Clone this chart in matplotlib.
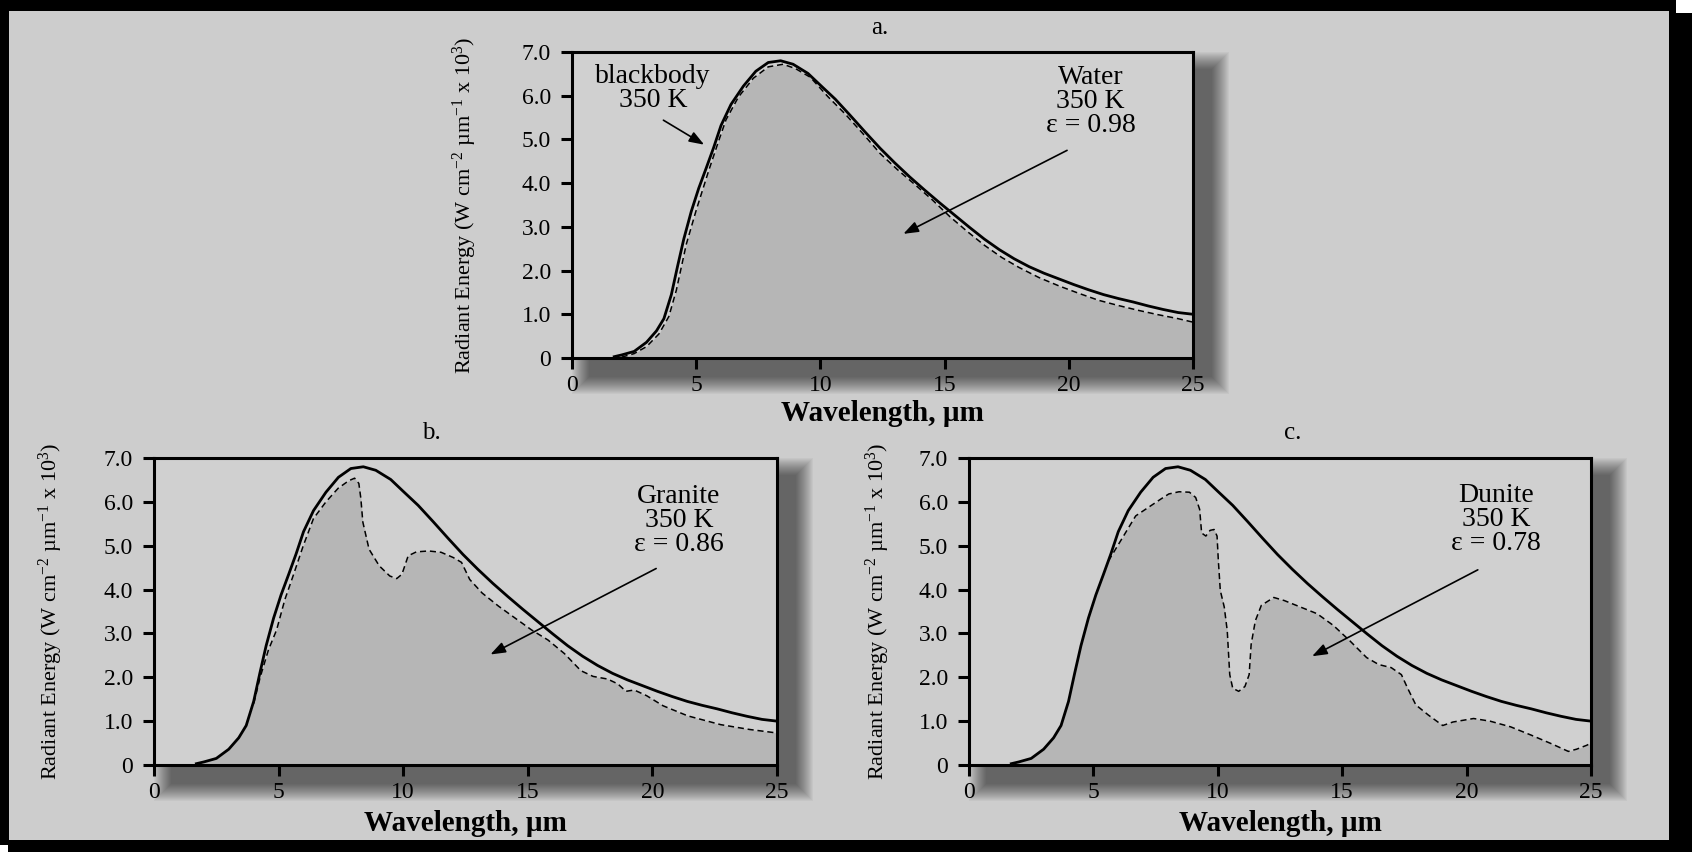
import matplotlib
matplotlib.use("Agg")
import matplotlib.pyplot as plt
from matplotlib.patches import Rectangle

plt.rcParams['font.family'] = ['Liberation Serif', 'DejaVu Serif']
plt.rcParams['mathtext.fontset'] = 'custom'
plt.rcParams['mathtext.rm'] = 'Liberation Serif'
plt.rcParams['mathtext.it'] = 'Liberation Serif:italic'
plt.rcParams['mathtext.bf'] = 'Liberation Serif:bold'

# blackbody 350 K (same curve in all three panels)
bb_x = [1.7, 2.0, 2.5, 3.0, 3.4, 3.7, 4.0, 4.25, 4.5, 4.8, 5.1, 5.4, 5.7, 6.0, 6.4, 6.9,
        7.4, 7.9, 8.4, 8.9, 9.5, 10.0, 10.6, 11.2, 11.8, 12.4, 13.0, 13.6, 14.2, 14.8,
        15.4, 16.0, 16.6, 17.2, 17.8, 18.4, 19.0, 19.6, 20.2, 20.8, 21.4, 22.0, 22.6,
        23.2, 23.8, 24.4, 25.0]
bb_y = [0.03, 0.07, 0.15, 0.36, 0.62, 0.90, 1.45, 2.10, 2.72, 3.35, 3.88, 4.34, 4.81, 5.32,
        5.80, 6.22, 6.56, 6.76, 6.80, 6.72, 6.51, 6.24, 5.92, 5.55, 5.17, 4.80, 4.46, 4.14,
        3.84, 3.55, 3.27, 2.99, 2.72, 2.48, 2.27, 2.09, 1.94, 1.81, 1.68, 1.56, 1.45, 1.36,
        1.28, 1.19, 1.11, 1.04, 1.00]

# water, emissivity 0.98
water_x = [2.0, 2.5, 3.0, 3.5, 3.9, 4.2, 4.6, 5.0, 5.5, 5.9, 6.2, 6.7, 7.3, 7.9, 8.5, 9.0,
           9.6, 10.3, 11.0, 11.7, 12.4, 13.1, 13.8, 14.5, 15.2, 15.9, 16.6, 17.3, 18.0,
           18.8, 19.6, 20.4, 21.2, 22.0, 22.8, 23.6, 24.4, 25.0]
water_y = [0.02, 0.10, 0.26, 0.55, 0.95, 1.55, 2.60, 3.38, 4.28, 4.96, 5.45, 5.97, 6.40,
           6.66, 6.72, 6.62, 6.42, 5.98, 5.58, 5.14, 4.68, 4.31, 3.97, 3.62, 3.24, 2.90,
           2.58, 2.30, 2.07, 1.84, 1.65, 1.48, 1.32, 1.20, 1.09, 0.99, 0.90, 0.82]

# granite, emissivity 0.86 (dashed part, follows blackbody below 4 um)
granite_x = [4.0, 4.26, 4.59, 4.92, 5.25, 5.58, 5.99, 6.4, 6.9, 7.39, 7.81, 8.05, 8.22, 8.3,
             8.38, 8.63, 9.04, 9.46, 9.74, 9.95, 10.2, 10.53, 11.02, 11.52, 12.01, 12.34,
             12.67, 13.17, 13.83, 14.49, 15.15, 15.81, 16.47, 17.13, 17.62, 18.2, 18.61,
             18.94, 19.27, 19.77, 20.43, 21.42, 22.74, 23.9, 25.0]
granite_y = [1.40, 2.0, 2.62, 3.08, 3.77, 4.31, 5.0, 5.62, 6.0, 6.31, 6.48, 6.54, 6.42, 6.08,
             5.54, 4.92, 4.54, 4.31, 4.25, 4.35, 4.77, 4.86, 4.88, 4.85, 4.73, 4.62, 4.23,
             3.92, 3.62, 3.35, 3.08, 2.85, 2.54, 2.15, 2.02, 1.96, 1.85, 1.68, 1.71, 1.58,
             1.35, 1.12, 0.92, 0.81, 0.73]

# dunite, emissivity 0.78 (dashed part, follows blackbody below 5.6 um)
dunite_x = [5.6, 6.21, 6.7, 7.2, 7.7, 8.03, 8.44, 8.86, 9.11, 9.27, 9.35, 9.52, 9.69, 9.85,
            9.97, 10.02, 10.1, 10.26, 10.38, 10.48, 10.6, 10.84, 11.09, 11.26, 11.34, 11.51,
            11.75, 12.25, 12.67, 13.33, 13.99, 14.65, 15.31, 15.98, 16.47, 16.97, 17.38,
            17.63, 17.96, 18.46, 19.04, 19.45, 20.28, 20.94, 21.77, 22.6, 23.43, 24.09,
            24.42, 24.83, 25.0]
dunite_y = [4.65, 5.22, 5.68, 5.87, 6.06, 6.18, 6.23, 6.22, 6.1, 5.83, 5.29, 5.22, 5.35, 5.37,
            5.22, 4.68, 3.98, 3.6, 3.06, 2.06, 1.75, 1.68, 1.79, 2.06, 2.75, 3.29, 3.64, 3.82,
            3.75, 3.6, 3.45, 3.18, 2.83, 2.45, 2.29, 2.22, 2.06, 1.75, 1.37, 1.14, 0.90, 0.98,
            1.06, 1.0, 0.87, 0.68, 0.48, 0.31, 0.36, 0.45, 0.50]

x_ticks = [0, 5, 10, 15, 20, 25]
y_ticks = [0, 1, 2, 3, 4, 5, 6, 7]
y_tick_labels = ['0', '1.0', '2.0', '3.0', '4.0', '5.0', '6.0', '7.0']

W, H = 1692, 852
BG = '#cdcdcd'
FACE = '#d0d0d0'
FILL = '#b6b6b6'

fig = plt.figure(figsize=(W / 100, H / 100), dpi=100)
fig.patch.set_facecolor('white')


def px_rect(x0, y0, x1, y1, **kw):
    # pixel box, y measured from the top
    r = Rectangle((x0 / W, 1 - y1 / H), (x1 - x0) / W, (y1 - y0) / H,
                  transform=fig.transFigure, **kw)
    fig.add_artist(r)


# black frame with its own offset shadow, grey panel inside
px_rect(8, 13, 1692, 852, facecolor='black', edgecolor='none', zorder=-20)
px_rect(0, 0, 1676, 845, facecolor='black', edgecolor='none', zorder=-19)
px_rect(9, 11, 1669, 840, facecolor=BG, edgecolor='none', zorder=-18)


def add_shadow(left, top, right, bottom, off=18, blur=18, n=18, alpha=0.036):
    for k in range(n):
        g = blur * (1 - k / n)
        px_rect(left + off - g, top + off - g, right + off + g, bottom + off + g,
                facecolor='black', edgecolor='none', alpha=alpha, zorder=-10)


def make_axes(left, top, right, bottom):
    add_shadow(left, top, right, bottom)
    ax = fig.add_axes([left / W, 1 - bottom / H, (right - left) / W, (bottom - top) / H])
    ax.set_facecolor(FACE)
    ax.set_xlim(0, 25)
    ax.set_ylim(0, 7)
    ax.set_xticks(x_ticks)
    ax.set_yticks(y_ticks)
    ax.set_yticklabels(y_tick_labels)
    for s in ax.spines.values():
        s.set_linewidth(2.2)
        s.set_color('black')
    ax.tick_params(direction='out', length=8, width=2.2, labelsize=17,
                   top=False, right=False)
    ax.tick_params(axis='x', pad=4)
    ax.tick_params(axis='y', pad=7)
    return ax


def arrow(ax, start, end):
    ax.annotate('', xy=end, xytext=start, zorder=4,
                arrowprops=dict(arrowstyle='-|>,head_length=0.6,head_width=0.22',
                                color='black', lw=1.2, mutation_scale=15,
                                shrinkA=0, shrinkB=0))


def draw(ax, ex, ey, fx, fy, title, title_x, ylab_x, xlab_y, label, text_xy,
         arrow_from, arrow_to):
    ax.fill_between(fx, 0, fy, color=FILL, lw=0, zorder=1)
    ax.plot(ex, ey, color='black', lw=1.1, dashes=(4, 2.5), zorder=2)
    ax.plot(bb_x, bb_y, color='black', lw=2.0, zorder=3)
    ax.text(title_x, 1.08, title, transform=ax.transAxes, ha='center', va='center',
            fontsize=18)
    ax.set_ylabel('Radiant Energy (W cm$^{-2}$ µm$^{-1}$ x 10$^{3}$)', fontsize=16)
    ax.yaxis.label.set_va('center')
    ax.yaxis.set_label_coords(ylab_x, 0.5)
    ax.set_xlabel('Wavelength, µm', fontsize=21, fontweight='bold')
    ax.xaxis.label.set_va('center')
    ax.xaxis.set_label_coords(0.5, xlab_y)
    ax.text(text_xy[0], text_xy[1], label, ha='center', va='center', fontsize=20,
            linespacing=0.95, zorder=4)
    arrow(ax, arrow_from, arrow_to)


# panel a: water
ax_a = make_axes(572, 52, 1193, 358)
draw(ax_a, water_x, water_y, water_x, water_y, 'a.', 0.495, -0.172, -0.182,
     'Water\n350 K\nε = 0.98', (20.87, 5.87), (19.93, 4.75), (13.34, 2.84))
ax_a.text(3.27, 6.17, 'blackbody\n350 K', ha='center', va='center', fontsize=20,
          linespacing=0.95, zorder=4)
arrow(ax_a, (3.68, 5.44), (5.32, 4.88))

# panel b: granite
gfx = [x for x in bb_x if x < granite_x[0]] + granite_x
gfy = [y for x, y in zip(bb_x, bb_y) if x < granite_x[0]] + granite_y
ax_b = make_axes(154, 458, 777, 765)
draw(ax_b, granite_x, granite_y, gfx, gfy, 'b.', 0.446, -0.166, -0.192,
     'Granite\n350 K\nε = 0.86', (21.06, 5.58), (20.15, 4.48), (13.5, 2.52))

# panel c: dunite
dfx = [x for x in bb_x if x < dunite_x[0]] + dunite_x
dfy = [y for x, y in zip(bb_x, bb_y) if x < dunite_x[0]] + dunite_y
ax_c = make_axes(969, 458, 1591, 765)
draw(ax_c, dunite_x, dunite_y, dfx, dfy, 'c.', 0.52, -0.146, -0.192,
     'Dunite\n350 K\nε = 0.78', (21.19, 5.6), (20.45, 4.45), (13.79, 2.48))

fig.savefig('out.png', dpi=100, facecolor=fig.get_facecolor())
